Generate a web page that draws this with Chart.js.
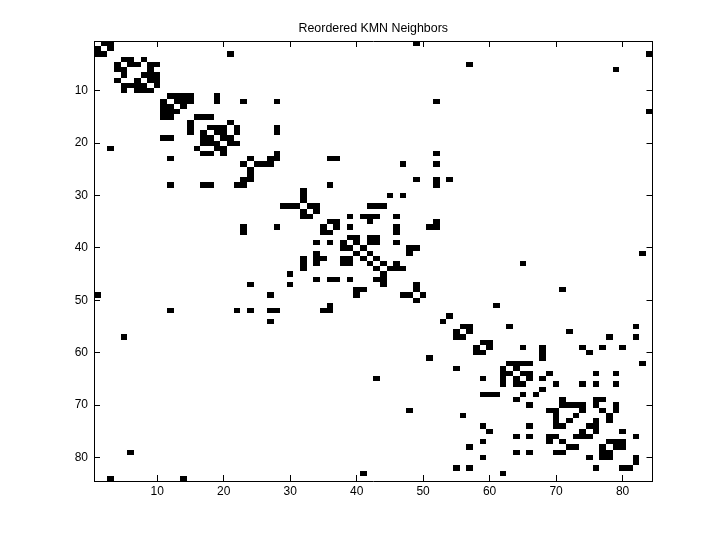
<!DOCTYPE html>
<html>
<head>
<meta charset="utf-8">
<title>Reordered KMN Neighbors</title>
<script src="https://cdn.jsdelivr.net/npm/chart.js@4/dist/chart.umd.min.js"></script>
<style>
  html, body { margin: 0; padding: 0; background: #fff; }
  canvas { display: block; }
</style>
</head>
<body>
<canvas id="spy" width="720" height="540"></canvas>
<script>
const TITLE = 'Reordered KMN Neighbors';
const AXIS_MIN = 0.5;
const AXIS_MAX = 84.5;
const TICK_VALUES = [10, 20, 30, 40, 50, 60, 70, 80];
const X_TICK_VALUES = TICK_VALUES;
const Y_TICK_VALUES = TICK_VALUES;

// neighbors of each item: NEIGHBORS[r - 1] lists the filled columns of row r
const NEIGHBORS = [
  [2, 3, 49],
  [1, 3],
  [1, 2, 21, 84],
  [5, 6, 8],
  [4, 6, 7, 9, 10, 57],
  [4, 5, 9, 79],
  [5, 8, 9, 10],
  [4, 7, 9, 10],
  [5, 6, 7, 8, 10],
  [5, 7, 8, 9],
  [12, 13, 14, 15, 19],
  [11, 13, 14, 15, 19, 23, 28, 52],
  [11, 12, 14],
  [11, 12, 13, 84],
  [11, 12, 16, 17, 18],
  [15, 21],
  [15, 18, 19, 20, 22, 28],
  [15, 17, 19, 20, 22, 28],
  [11, 12, 17, 18, 20, 21],
  [17, 18, 19, 21, 22],
  [3, 16, 19, 20],
  [17, 18, 20, 28, 52],
  [12, 24, 27, 28, 36, 37],
  [23, 25, 26, 27, 47, 52],
  [24],
  [24],
  [23, 24, 49, 52, 54],
  [12, 17, 18, 22, 23, 36, 52],
  [32],
  [32, 45, 47],
  [32],
  [29, 30, 31, 33, 34, 42, 43, 44],
  [32, 34],
  [32, 33, 39, 41, 42, 43, 46],
  [36, 37, 42, 52],
  [23, 28, 35, 37, 39, 46, 51, 52],
  [23, 35, 36, 46],
  [39, 40, 42, 43],
  [34, 36, 38, 40, 42, 43, 46],
  [38, 39, 41, 48, 49],
  [34, 40, 42, 48, 83],
  [32, 34, 35, 38, 39, 41, 43],
  [32, 34, 38, 39, 42, 44, 46, 65],
  [32, 43, 45, 46, 47],
  [30, 44],
  [34, 36, 37, 39, 43, 44],
  [24, 30, 44, 49],
  [40, 41, 49, 71],
  [1, 27, 40, 47, 48, 50],
  [49],
  [36, 61],
  [12, 22, 24, 27, 28, 35, 36],
  [54],
  [27, 53],
  [56, 57, 63, 82],
  [55, 57, 72],
  [5, 55, 56, 78, 82],
  [59, 60],
  [58, 60, 65, 68, 74, 77, 80],
  [58, 59, 68, 75],
  [51, 68],
  [63, 64, 65, 66, 83],
  [55, 62, 64],
  [62, 63, 65, 66, 69, 76, 79],
  [43, 59, 62, 64, 66, 68],
  [62, 64, 65, 70, 74, 76, 79],
  [68],
  [59, 60, 61, 65, 67],
  [64, 71, 76, 77],
  [66, 71, 72, 73, 74, 76, 79],
  [48, 69, 70, 74, 77, 79],
  [56, 70, 73, 78],
  [70, 72, 76, 78],
  [59, 66, 70, 71, 75, 76],
  [60, 74, 76, 80],
  [64, 66, 69, 70, 73, 74, 75, 82],
  [59, 69, 71, 78, 79, 80],
  [57, 72, 73, 77, 79, 80],
  [6, 64, 66, 70, 71, 77, 78],
  [59, 75, 77, 78, 82],
  [82],
  [55, 57, 76, 80, 81],
  [41, 62],
  [3, 14],
];

const FONT = { family: "'Liberation Sans', Arial, sans-serif", size: 12 };

// each filled cell is a floating bar one row tall
const cells = NEIGHBORS.flatMap((cols, i) =>
  cols.map(c => ({ x: c, y: [i + 1 - 0.5, i + 1 + 0.5] })));

// snap bars to whole pixels so the cells stay hard edged
const snapCells = {
  id: 'snapCells',
  beforeDatasetDraw(chart, args) {
    args.meta.data.forEach(bar => {
      const left = Math.round(bar.x - bar.width / 2);
      const right = Math.round(bar.x + bar.width / 2);
      const top = Math.round(Math.min(bar.y, bar.base));
      const bottom = Math.round(Math.max(bar.y, bar.base));
      bar.x = (left + right) / 2;
      bar.width = right - left;
      bar.y = top;
      bar.base = bottom;
    });
  },
};

// boxSize fixes the space an axis takes, so the plot box lands where the reference has it
function axisOptions(position, values, boxSize, showLabels, labelPadding) {
  const horizontal = position === 'top' || position === 'bottom';
  return {
    type: 'linear',
    axis: horizontal ? 'x' : 'y',
    position,
    min: AXIS_MIN,
    max: AXIS_MAX,
    offset: false,
    reverse: !horizontal,
    afterBuildTicks: scale => { scale.ticks = values.map(value => ({ value })); },
    afterFit: scale => {
      if (horizontal) scale.height = boxSize;
      else scale.width = boxSize;
    },
    border: { display: true, color: '#000', width: 1 },
    grid: {
      drawOnChartArea: false,
      drawTicks: true,
      tickLength: -6,
      color: '#000',
      tickColor: '#000',
      offset: false,
    },
    ticks: {
      display: showLabels,
      color: '#000',
      font: FONT,
      padding: labelPadding,
      autoSkip: false,
      maxRotation: 0,
      minRotation: 0,
      callback: v => String(v),
    },
  };
}

new Chart(document.getElementById('spy'), {
  type: 'bar',
  data: {
    datasets: [{
      data: cells,
      backgroundColor: '#000',
      borderWidth: 0,
      inflateAmount: 0,
      barPercentage: 1,
      categoryPercentage: 1,
    }],
  },
  plugins: [snapCells],
  options: {
    responsive: false,
    animation: false,
    layout: { padding: { left: 0, right: 67.5, top: 0, bottom: 0 } },
    plugins: {
      legend: { display: false },
      tooltip: { enabled: false },
      title: {
        display: true,
        text: TITLE,
        color: '#000',
        font: { ...FONT, size: 12.4, weight: 'normal' },
        fullSize: false,
        padding: { top: 21, bottom: 5.12 },
      },
    },
    scales: {
      x: axisOptions('bottom', X_TICK_VALUES, 59, true, 9.5),
      y: axisOptions('left', Y_TICK_VALUES, 94, true, 12),
      x2: axisOptions('top', X_TICK_VALUES, 0, false, 0),
      y2: axisOptions('right', Y_TICK_VALUES, 0, false, 0),
    },
  },
});
</script>
</body>
</html>
